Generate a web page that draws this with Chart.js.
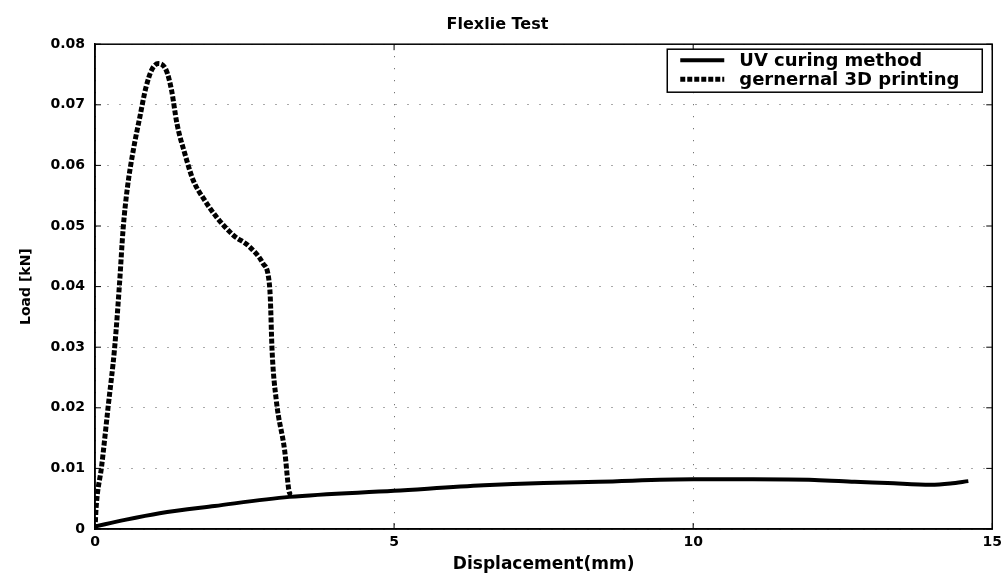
<!DOCTYPE html>
<html>
<head>
<meta charset="utf-8">
<script src="https://cdn.jsdelivr.net/npm/chart.js@4.4.1/dist/chart.umd.min.js"></script>
<style>
  html, body { margin: 0; padding: 0; background: #fff; }
  #wrap { width: 1007px; height: 579px; }
</style>
</head>
<body>
<div id="wrap"><canvas id="chart" width="1007" height="579"></canvas></div>
<script>
// values
const uvX = [0, 0.5, 1.08, 2, 3.25, 5, 6.5, 7.5, 8.42, 10, 11, 12.03, 12.7, 13.25, 13.97, 14.3, 14.6];
const uvY = [0.0004, 0.0015, 0.0026, 0.0038, 0.0053, 0.0063, 0.0072, 0.0076, 0.0078, 0.0082, 0.0082, 0.0081, 0.0078, 0.0076, 0.0073, 0.0075, 0.0079];

const printX = [0, 0.02, 0.11, 0.22, 0.33, 0.41, 0.47, 0.54, 0.64, 0.75, 0.85, 0.95, 1.06, 1.19, 1.28, 1.37, 1.5, 1.64, 1.83, 2.03, 2.31, 2.58, 2.81, 2.9, 2.93, 2.96, 3.03, 3.17, 3.25, 3.3];
const printY = [0, 0.0037, 0.0103, 0.0202, 0.0301, 0.0405, 0.0495, 0.0562, 0.0625, 0.068, 0.0728, 0.0758, 0.0768, 0.0757, 0.0724, 0.0669, 0.062, 0.0576, 0.0543, 0.0515, 0.0485, 0.0466, 0.0438, 0.0416, 0.0383, 0.0295, 0.0213, 0.013, 0.006, 0.0055];

const xTicks = [0, 5, 10, 15];
const yTicks = [0, 0.01, 0.02, 0.03, 0.04, 0.05, 0.06, 0.07, 0.08];
const seriesNames = ["UV curing method", "gernernal 3D printing"];

const FONT = "'DejaVu Sans', sans-serif";

const toPoints = (xs, ys) => xs.map((x, k) => ({ x: x, y: ys[k] }));

// box round the plot, inward ticks and legend, matlab style
const framePlugin = {
  id: "frame",
  afterDraw(chart) {
    const ctx = chart.ctx;
    const a = chart.chartArea;
    const xs = chart.scales.x;
    const ys = chart.scales.y;
    ctx.save();
    ctx.strokeStyle = "#000";
    ctx.lineWidth = 1.5;
    ctx.setLineDash([]);
    ctx.strokeRect(a.left, a.top, a.right - a.left, a.bottom - a.top);

    ctx.lineWidth = 1;
    ctx.beginPath();
    xTicks.forEach((t) => {
      const px = xs.getPixelForValue(t);
      ctx.moveTo(px, a.bottom);
      ctx.lineTo(px, a.bottom - 6);
      ctx.moveTo(px, a.top);
      ctx.lineTo(px, a.top + 6);
    });
    yTicks.forEach((t) => {
      const py = ys.getPixelForValue(t);
      ctx.moveTo(a.left, py);
      ctx.lineTo(a.left + 6, py);
      ctx.moveTo(a.right, py);
      ctx.lineTo(a.right - 6, py);
    });
    ctx.stroke();

    // legend
    const bw = 315, bh = 43;
    const bx = a.right - 10 - bw;
    const by = a.top + 5;
    ctx.fillStyle = "#fff";
    ctx.fillRect(bx, by, bw, bh);
    ctx.lineWidth = 1.5;
    ctx.strokeRect(bx, by, bw, bh);
    ctx.font = "bold 18px " + FONT;
    ctx.textBaseline = "middle";
    ctx.textAlign = "left";
    chart.data.datasets.forEach((ds, k) => {
      const ly = by + 11 + k * 19;
      ctx.beginPath();
      ctx.lineWidth = ds.borderWidth;
      ctx.setLineDash(ds.borderDash || []);
      ctx.moveTo(bx + 13, ly);
      ctx.lineTo(bx + 57, ly);
      ctx.stroke();
      ctx.setLineDash([]);
      ctx.fillStyle = "#000";
      ctx.fillText(ds.label, bx + 72, ly + 1);
    });
    ctx.restore();
  },
};

new Chart(document.getElementById("chart"), {
  type: "scatter",
  data: {
    datasets: [
      {
        label: seriesNames[0],
        data: toPoints(uvX, uvY),
        showLine: true,
        borderColor: "#000",
        borderWidth: 4,
        pointRadius: 0,
        cubicInterpolationMode: "monotone",
      },
      {
        label: seriesNames[1],
        data: toPoints(printX, printY),
        showLine: true,
        borderColor: "#000",
        borderWidth: 5,
        borderDash: [5, 2],
        pointRadius: 0,
        cubicInterpolationMode: "monotone",
      },
    ],
  },
  options: {
    responsive: false,
    animation: false,
    layout: { padding: { left: 0, right: 12, top: 0, bottom: 0 } },
    plugins: {
      legend: { display: false },
      tooltip: { enabled: false },
      title: {
        display: true,
        text: "Flexlie Test",
        color: "#000",
        font: { family: FONT, size: 16, weight: "bold" },
        padding: { top: 15, bottom: 10 },
      },
    },
    scales: {
      x: {
        type: "linear",
        min: 0,
        max: 15,
        afterBuildTicks: (scale) => {
          scale.ticks = xTicks.map((v) => ({ value: v }));
        },
        afterFit: (scale) => {
          scale.height = 50;
        },
        ticks: {
          color: "#000",
          font: { family: FONT, size: 14, weight: "bold" },
          padding: 5,
          maxRotation: 0,
        },
        grid: { color: "#555", lineWidth: 1, drawTicks: false },
        border: { display: true, color: "#000", width: 1.5, dash: [1, 11] },
        title: {
          display: true,
          text: "Displacement(mm)",
          color: "#000",
          font: { family: FONT, size: 17, weight: "bold" },
          padding: { top: 0, bottom: 4 },
        },
      },
      y: {
        type: "linear",
        min: 0,
        max: 0.08,
        afterBuildTicks: (scale) => {
          scale.ticks = yTicks.map((v) => ({ value: v }));
        },
        afterFit: (scale) => {
          scale.width = 95;
        },
        ticks: {
          color: "#000",
          font: { family: FONT, size: 14, weight: "bold" },
          padding: 10,
          callback: (v) => (v === 0 ? "0" : v.toFixed(2)),
        },
        grid: { color: "#555", lineWidth: 1, drawTicks: false },
        border: { display: true, color: "#000", width: 1.5, dash: [1, 11] },
        title: {
          display: true,
          text: "Load [kN]",
          color: "#000",
          font: { family: FONT, size: 14, weight: "bold" },
          padding: { top: 18, bottom: 0 },
        },
      },
    },
  },
  plugins: [framePlugin],
});
</script>
</body>
</html>
